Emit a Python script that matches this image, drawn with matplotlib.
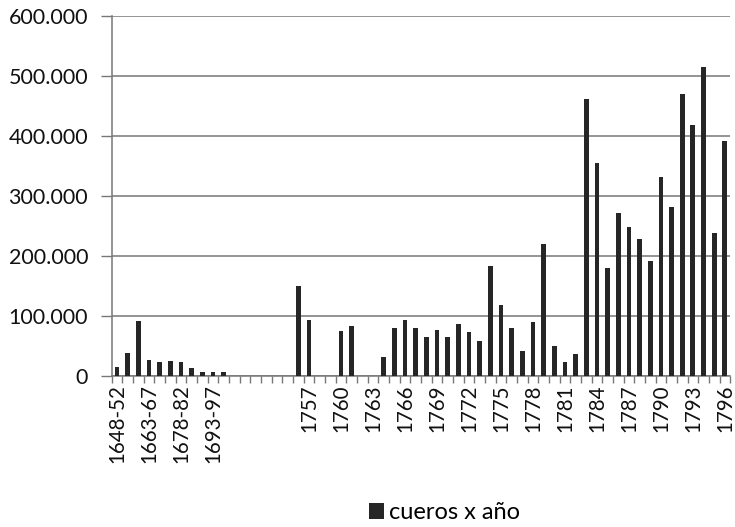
import matplotlib
matplotlib.use("Agg")
import matplotlib.pyplot as plt
from matplotlib.ticker import FuncFormatter, FixedLocator
import numpy as np

early_periods = ["1648-52", "1653-57", "1658-62", "1663-67", "1668-72", "1673-77",
                 "1678-82", "1683-87", "1688-92", "1693-97", "1698-1702"]
early_values = [15500, 38800, 92000, 26700, 24000, 25500, 24000, 12800, 7200, 6100, 7200]

blank_slots = ["", "", "", "", "", ""]
blank_values = [0, 0, 0, 0, 0, 0]

years = [str(y) for y in range(1756, 1797)]
year_values = [150000, 93300, 0, 0, 75000, 83900, 0, 0, 31000, 80600,
               93300, 79400, 64400, 76700, 64400, 86100, 73900, 58300, 183300, 117800,
               79400, 41700, 89400, 219400, 50000, 23900, 36700, 461000, 355600, 179400,
               272200, 247800, 228900, 191700, 332200, 281100, 469400, 418300, 515600, 237800,
               391700]

categories = early_periods + blank_slots + years
values = early_values + blank_values + year_values
series_name = "cueros x año"

plt.rcParams['font.family'] = ['Lato', 'DejaVu Sans']

fig = plt.figure(figsize=(7.35, 5.27), dpi=100)
ax = fig.add_axes([0.152, 0.2865, 0.8415, 0.6831])

x = np.arange(len(categories))
ax.bar(x, values, width=0.45, color="#262626", label=series_name, zorder=3)

ax.set_xlim(-0.5, len(categories) - 0.5)
ax.set_ylim(0, 600000)
ax.set_yticks(np.arange(0, 600001, 100000))
ax.yaxis.set_major_formatter(FuncFormatter(lambda v, p: "0" if v == 0 else f"{int(v):,}".replace(",", ".")))
ax.grid(axis="y", color="#777777", linewidth=1.1, zorder=0)

label_idx = list(range(0, len(categories), 3))
ax.set_xticks(label_idx)
ax.set_xticklabels([categories[i] for i in label_idx], rotation=90)
ax.xaxis.set_minor_locator(FixedLocator(np.arange(-0.5, len(categories), 1.0)))
ax.tick_params(axis="x", which="major", length=0, pad=6, labelsize=14.8, labelcolor="#111111")
ax.tick_params(axis="x", which="minor", length=5, color="#777777", width=1)
ax.tick_params(axis="y", which="major", length=8, color="#777777", width=1, labelsize=15.5,
               labelcolor="#111111", pad=9)

for s in ["top", "right"]:
    ax.spines[s].set_visible(False)
ax.spines["left"].set_color("#777777")
ax.spines["bottom"].set_color("#777777")
ax.spines["left"].set_linewidth(1.1)
ax.spines["bottom"].set_linewidth(1.1)

fig.legend(loc="center", bbox_to_anchor=(0.605, 0.027), frameon=False, fontsize=17,
           handlelength=0.65, handleheight=0.65, handletextpad=0.2)

fig.savefig("out.png", dpi=100, facecolor="white")
